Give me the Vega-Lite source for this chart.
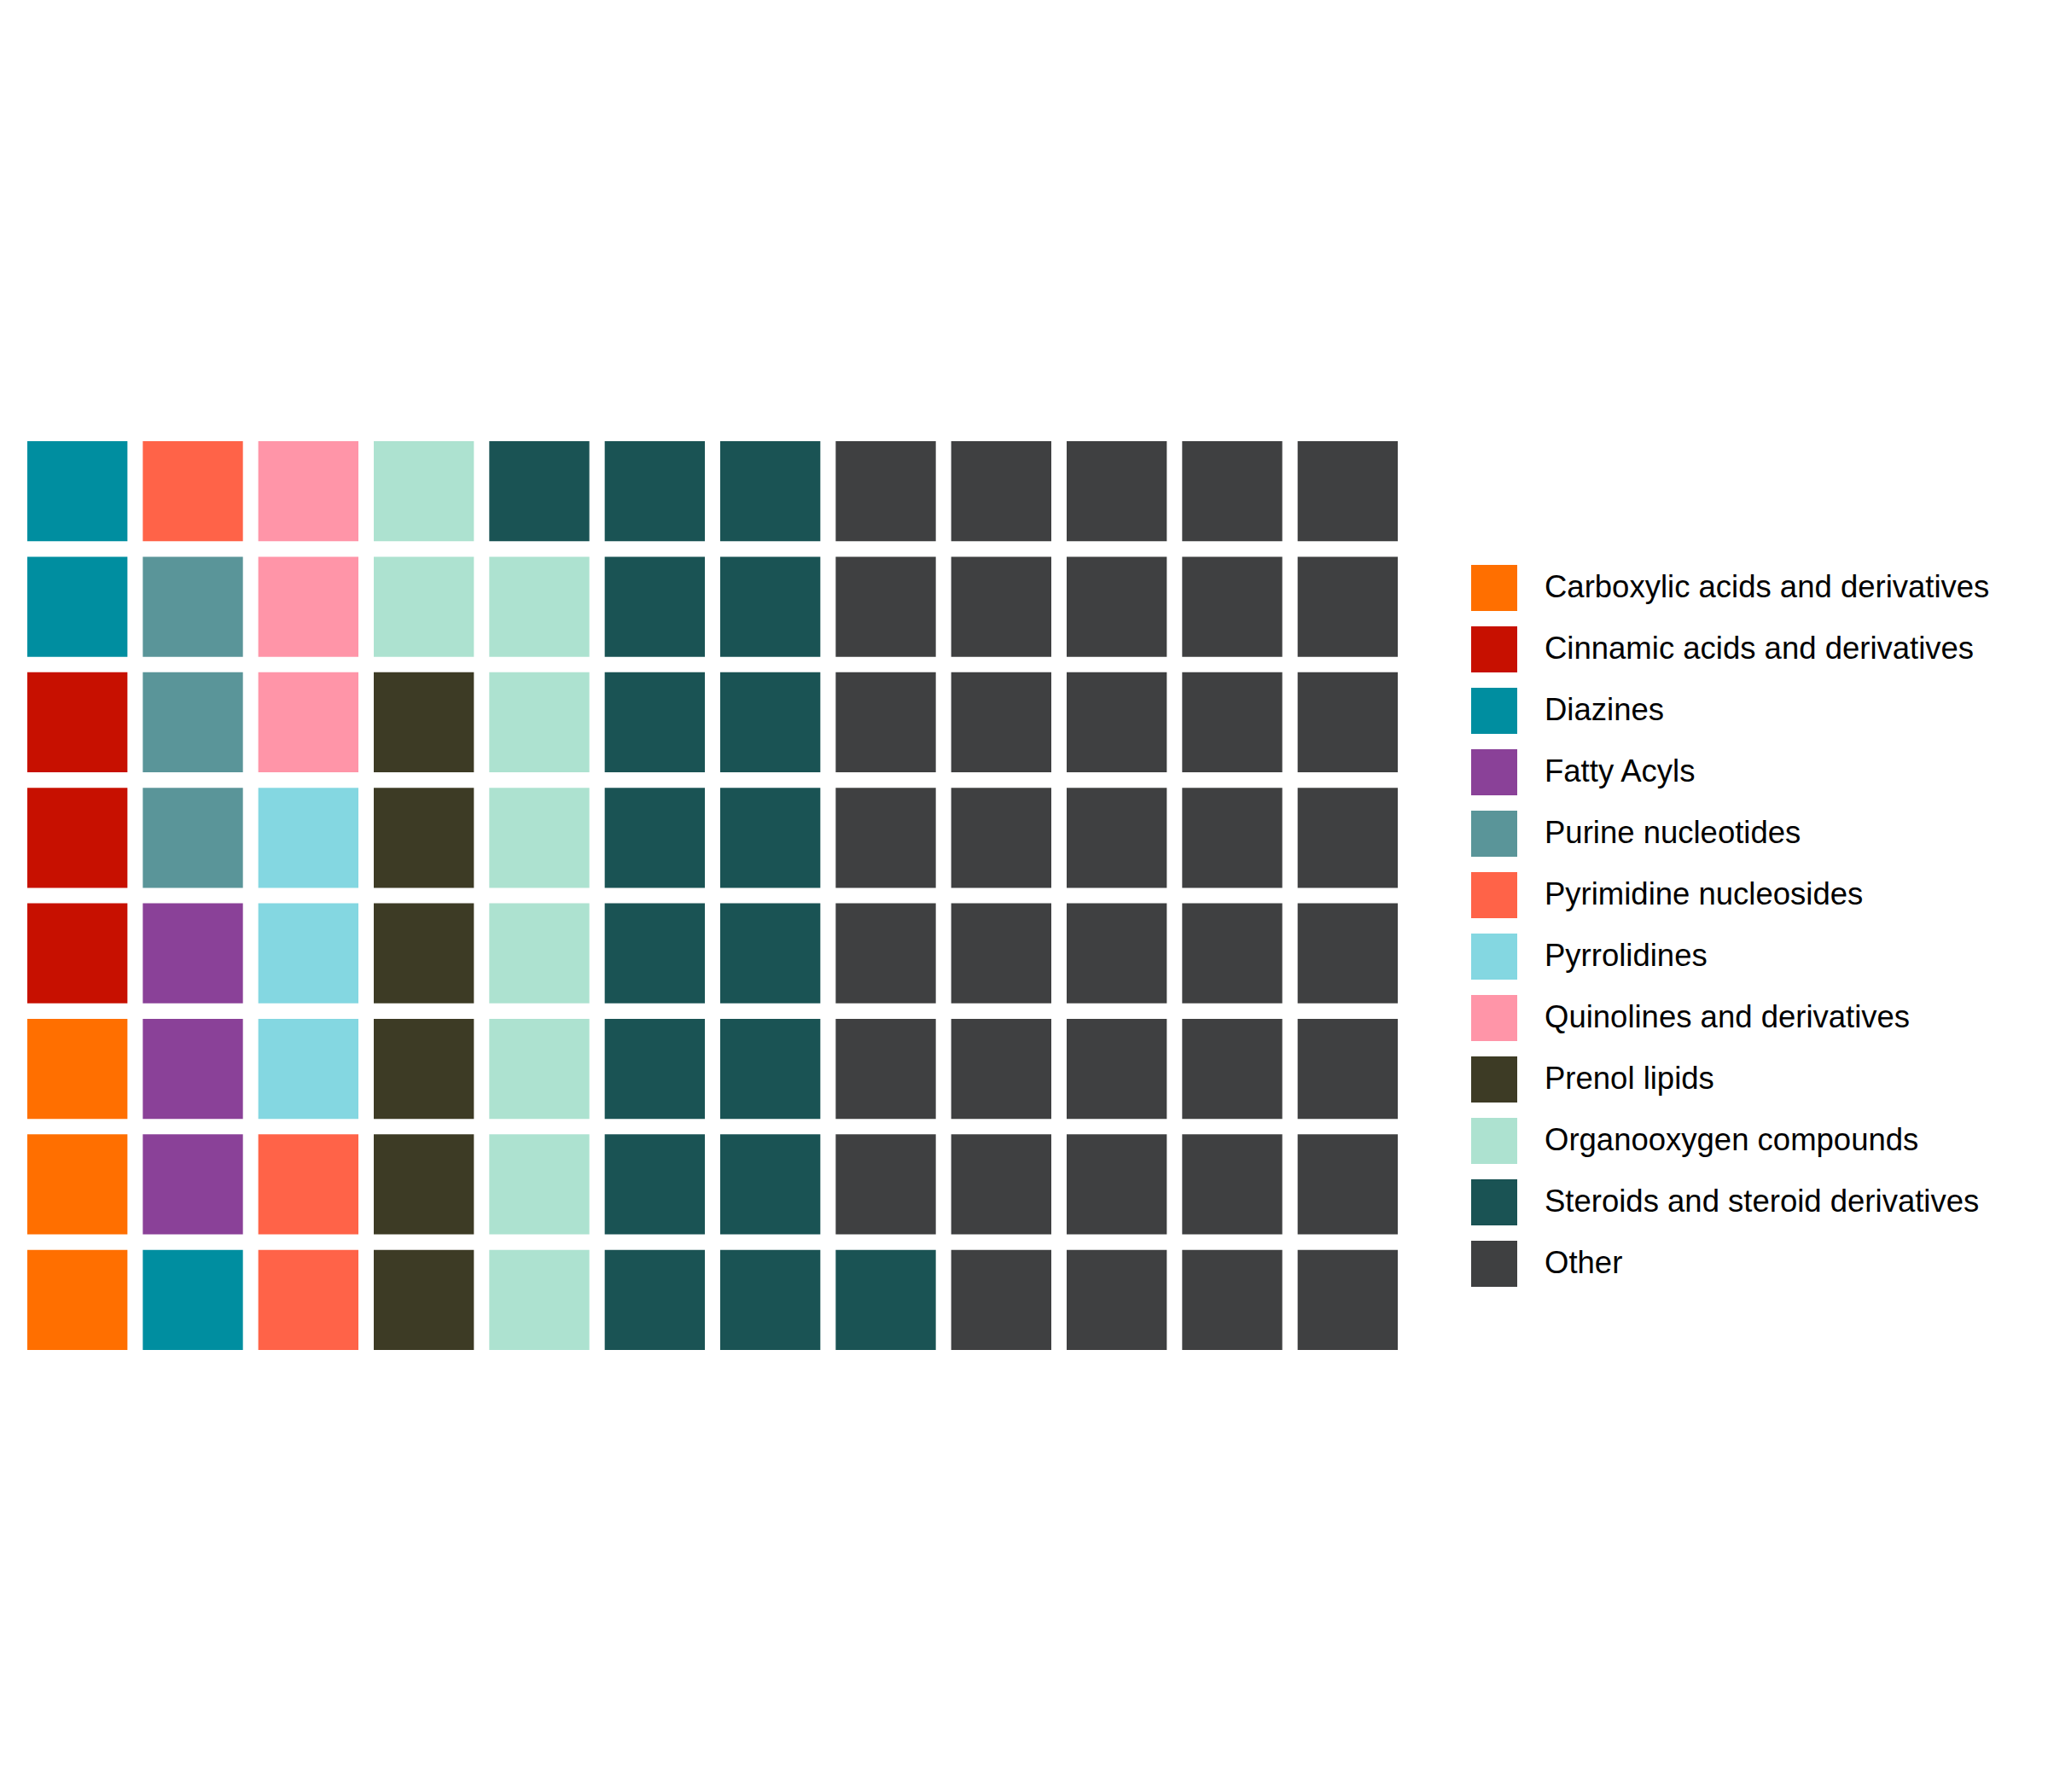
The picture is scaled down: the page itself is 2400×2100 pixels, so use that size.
{
  "$schema": "https://vega.github.io/schema/vega-lite/v6.json",
  "width": 1624,
  "height": 1083,
  "padding": {"left": 23, "top": 508, "right": 0, "bottom": 0},
  "background": "white",
  "config": {"view": {"stroke": null}},
  "data": {"values": [
    {"c":1,"r":1,"g":"Carboxylic acids and derivatives"},
    {"c":1,"r":2,"g":"Carboxylic acids and derivatives"},
    {"c":1,"r":3,"g":"Carboxylic acids and derivatives"},
    {"c":1,"r":4,"g":"Cinnamic acids and derivatives"},
    {"c":1,"r":5,"g":"Cinnamic acids and derivatives"},
    {"c":1,"r":6,"g":"Cinnamic acids and derivatives"},
    {"c":1,"r":7,"g":"Diazines"},
    {"c":1,"r":8,"g":"Diazines"},
    {"c":2,"r":1,"g":"Diazines"},
    {"c":2,"r":2,"g":"Fatty Acyls"},
    {"c":2,"r":3,"g":"Fatty Acyls"},
    {"c":2,"r":4,"g":"Fatty Acyls"},
    {"c":2,"r":5,"g":"Purine nucleotides"},
    {"c":2,"r":6,"g":"Purine nucleotides"},
    {"c":2,"r":7,"g":"Purine nucleotides"},
    {"c":2,"r":8,"g":"Pyrimidine nucleosides"},
    {"c":3,"r":1,"g":"Pyrimidine nucleosides"},
    {"c":3,"r":2,"g":"Pyrimidine nucleosides"},
    {"c":3,"r":3,"g":"Pyrrolidines"},
    {"c":3,"r":4,"g":"Pyrrolidines"},
    {"c":3,"r":5,"g":"Pyrrolidines"},
    {"c":3,"r":6,"g":"Quinolines and derivatives"},
    {"c":3,"r":7,"g":"Quinolines and derivatives"},
    {"c":3,"r":8,"g":"Quinolines and derivatives"},
    {"c":4,"r":1,"g":"Prenol lipids"},
    {"c":4,"r":2,"g":"Prenol lipids"},
    {"c":4,"r":3,"g":"Prenol lipids"},
    {"c":4,"r":4,"g":"Prenol lipids"},
    {"c":4,"r":5,"g":"Prenol lipids"},
    {"c":4,"r":6,"g":"Prenol lipids"},
    {"c":4,"r":7,"g":"Organooxygen compounds"},
    {"c":4,"r":8,"g":"Organooxygen compounds"},
    {"c":5,"r":1,"g":"Organooxygen compounds"},
    {"c":5,"r":2,"g":"Organooxygen compounds"},
    {"c":5,"r":3,"g":"Organooxygen compounds"},
    {"c":5,"r":4,"g":"Organooxygen compounds"},
    {"c":5,"r":5,"g":"Organooxygen compounds"},
    {"c":5,"r":6,"g":"Organooxygen compounds"},
    {"c":5,"r":7,"g":"Organooxygen compounds"},
    {"c":5,"r":8,"g":"Steroids and steroid derivatives"},
    {"c":6,"r":1,"g":"Steroids and steroid derivatives"},
    {"c":6,"r":2,"g":"Steroids and steroid derivatives"},
    {"c":6,"r":3,"g":"Steroids and steroid derivatives"},
    {"c":6,"r":4,"g":"Steroids and steroid derivatives"},
    {"c":6,"r":5,"g":"Steroids and steroid derivatives"},
    {"c":6,"r":6,"g":"Steroids and steroid derivatives"},
    {"c":6,"r":7,"g":"Steroids and steroid derivatives"},
    {"c":6,"r":8,"g":"Steroids and steroid derivatives"},
    {"c":7,"r":1,"g":"Steroids and steroid derivatives"},
    {"c":7,"r":2,"g":"Steroids and steroid derivatives"},
    {"c":7,"r":3,"g":"Steroids and steroid derivatives"},
    {"c":7,"r":4,"g":"Steroids and steroid derivatives"},
    {"c":7,"r":5,"g":"Steroids and steroid derivatives"},
    {"c":7,"r":6,"g":"Steroids and steroid derivatives"},
    {"c":7,"r":7,"g":"Steroids and steroid derivatives"},
    {"c":7,"r":8,"g":"Steroids and steroid derivatives"},
    {"c":8,"r":1,"g":"Steroids and steroid derivatives"},
    {"c":8,"r":2,"g":"Other"},
    {"c":8,"r":3,"g":"Other"},
    {"c":8,"r":4,"g":"Other"},
    {"c":8,"r":5,"g":"Other"},
    {"c":8,"r":6,"g":"Other"},
    {"c":8,"r":7,"g":"Other"},
    {"c":8,"r":8,"g":"Other"},
    {"c":9,"r":1,"g":"Other"},
    {"c":9,"r":2,"g":"Other"},
    {"c":9,"r":3,"g":"Other"},
    {"c":9,"r":4,"g":"Other"},
    {"c":9,"r":5,"g":"Other"},
    {"c":9,"r":6,"g":"Other"},
    {"c":9,"r":7,"g":"Other"},
    {"c":9,"r":8,"g":"Other"},
    {"c":10,"r":1,"g":"Other"},
    {"c":10,"r":2,"g":"Other"},
    {"c":10,"r":3,"g":"Other"},
    {"c":10,"r":4,"g":"Other"},
    {"c":10,"r":5,"g":"Other"},
    {"c":10,"r":6,"g":"Other"},
    {"c":10,"r":7,"g":"Other"},
    {"c":10,"r":8,"g":"Other"},
    {"c":11,"r":1,"g":"Other"},
    {"c":11,"r":2,"g":"Other"},
    {"c":11,"r":3,"g":"Other"},
    {"c":11,"r":4,"g":"Other"},
    {"c":11,"r":5,"g":"Other"},
    {"c":11,"r":6,"g":"Other"},
    {"c":11,"r":7,"g":"Other"},
    {"c":11,"r":8,"g":"Other"},
    {"c":12,"r":1,"g":"Other"},
    {"c":12,"r":2,"g":"Other"},
    {"c":12,"r":3,"g":"Other"},
    {"c":12,"r":4,"g":"Other"},
    {"c":12,"r":5,"g":"Other"},
    {"c":12,"r":6,"g":"Other"},
    {"c":12,"r":7,"g":"Other"},
    {"c":12,"r":8,"g":"Other"}
  ]},
  "mark": {"type": "rect"},
  "encoding": {
    "x": {"field": "c", "type": "ordinal", "axis": null, "scale": {"paddingInner": 0.133, "paddingOuter": 0.0665}},
    "y": {"field": "r", "type": "ordinal", "sort": "descending", "axis": null, "scale": {"paddingInner": 0.133, "paddingOuter": 0.0665}},
    "color": {
      "field": "g",
      "type": "nominal",
      "scale": {
        "domain": ["Carboxylic acids and derivatives", "Cinnamic acids and derivatives", "Diazines", "Fatty Acyls", "Purine nucleotides", "Pyrimidine nucleosides", "Pyrrolidines", "Quinolines and derivatives", "Prenol lipids", "Organooxygen compounds", "Steroids and steroid derivatives", "Other"],
        "range": ["#FF6F00", "#C71000", "#008EA0", "#8A4198", "#5A9599", "#FF6348", "#84D7E1", "#FF95A8", "#3D3B25", "#ADE2D0", "#1A5354", "#3F4041"]
      },
      "legend": {
        "title": null,
        "orient": "none",
        "legendX": 1701,
        "legendY": 154,
        "padding": 0,
        "symbolType": "square",
        "symbolSize": 2916,
        "symbolStrokeWidth": 0,
        "symbolOpacity": 1,
        "rowPadding": 18,
        "labelOffset": 32,
        "labelFont": "Liberation Sans, Arial, sans-serif",
        "labelFontSize": 36.5,
        "labelColor": "black",
        "labelLimit": 1000
      }
    }
  }
}
